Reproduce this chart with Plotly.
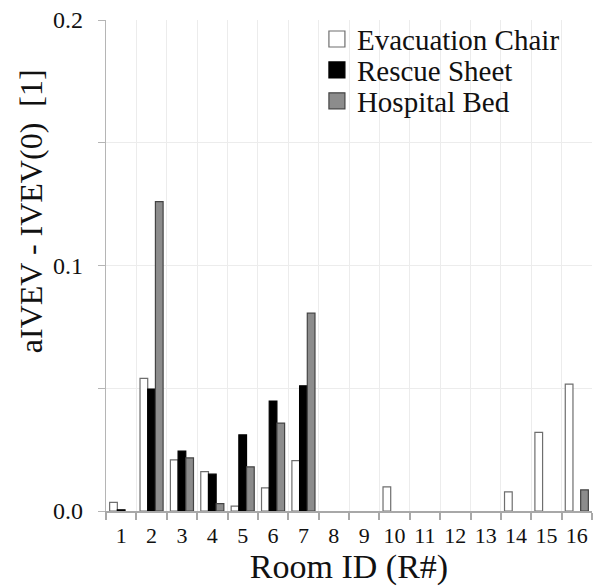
import plotly.graph_objects as go

rooms = list(range(1, 17))
room_labels = [str(r) for r in rooms]
evac_chair = [0.0035, 0.054, 0.0208, 0.016, 0.002, 0.0094, 0.0205, 0, 0, 0.0098, 0, 0, 0, 0.0078, 0.032, 0.0517]
rescue_sheet = [0.0005, 0.0497, 0.0244, 0.015, 0.031, 0.0448, 0.051, 0, 0, 0, 0, 0, 0, 0, 0, 0]
hospital_bed = [0, 0.126, 0.0216, 0.003, 0.018, 0.0358, 0.0806, 0, 0, 0, 0, 0, 0, 0, 0, 0.0086]
series_names = ["Evacuation Chair", "Rescue Sheet", "Hospital Bed"]
y_ticks = [0, 0.05, 0.1, 0.15, 0.2]
y_ticktext = ["0.0", "", "0.1", "", "0.2"]
boundaries = [r - 0.5 for r in rooms] + [16.5]

FONT = "Times New Roman, Liberation Serif, DejaVu Serif, serif"
fills = ["#ffffff", "#000000", "#8c8c8c"]
lines = ["#6e6e6e", "#000000", "#444444"]

fig = go.Figure()
for name, vals, fc, lc in zip(series_names, [evac_chair, rescue_sheet, hospital_bed], fills, lines):
    widths = [1.2 if v > 0 else 0 for v in vals]
    fig.add_trace(go.Bar(x=rooms, y=vals, name=name, showlegend=False,
                         marker=dict(color=fc, line=dict(color=lc, width=widths))))

legend_names = ["legend", "legend2", "legend3"]
for i, (name, fc, lc) in enumerate(zip(series_names, fills, lines)):
    fig.add_trace(go.Scatter(x=[None], y=[None], mode="markers", name=name,
                             legend=legend_names[i], showlegend=True,
                             marker=dict(symbol="square", size=16, color=fc,
                                         line=dict(color=lc, width=1.2))))

leg_common = dict(font=dict(family=FONT, size=29, color="#111"), bgcolor="rgba(0,0,0,0)",
                  xanchor="left", yanchor="middle", x=0.434)
fig.update_layout(
    legend=dict(y=0.961, **leg_common),
    legend2=dict(y=0.898, **leg_common),
    legend3=dict(y=0.835, **leg_common),
)

fig.update_layout(
    width=599, height=587,
    margin=dict(l=106, r=7, t=20, b=76),
    paper_bgcolor="white", plot_bgcolor="white",
    barmode="group", bargap=0.24, bargroupgap=0,
    font=dict(family=FONT, color="#111"),
    xaxis=dict(
        range=[0.5, 16.5], tickmode="array", tickvals=rooms, ticktext=room_labels,
        ticks="", showgrid=False, zeroline=False,
        showline=True, linecolor="#a8a8a8", linewidth=1.5,
        tickfont=dict(family=FONT, size=22, color="#111"),
        ticklabelstandoff=4,
        minor=dict(tickmode="array", tickvals=boundaries, ticks="outside", ticklen=7,
                   tickcolor="#a8a8a8", tickwidth=1.5, showgrid=True,
                   gridcolor="#ececec", gridwidth=1),
        title=dict(text="Room ID (R#)", font=dict(family=FONT, size=34, color="#111"), standoff=6),
    ),
    xaxis2=dict(
        overlaying="x", matches="x", side="bottom", anchor="y",
        tickmode="array", tickvals=boundaries, ticks="inside", ticklen=6,
        tickcolor="#a8a8a8", tickwidth=1.5, showticklabels=False,
        showgrid=False, zeroline=False, showline=False,
    ),
    yaxis=dict(
        range=[0, 0.2], tickmode="array", tickvals=y_ticks, ticktext=y_ticktext,
        ticks="outside", ticklen=7, tickcolor="#b5b5b5", tickwidth=1,
        showgrid=True, gridcolor="#ececec", gridwidth=1, zeroline=False,
        showline=True, linecolor="#b5b5b5", linewidth=1.2,
        tickfont=dict(family=FONT, size=24, color="#111"),
        ticklabelstandoff=10,
    ),
    annotations=[dict(
        text="aIVEV - IVEV(0) \u00a0[1]", textangle=-90, xref="paper", yref="paper",
        x=-0.154, y=0.611, xanchor="center", yanchor="middle", showarrow=False,
        font=dict(family=FONT, size=32, color="#111"),
    )],
)

fig.write_html("out.html")
